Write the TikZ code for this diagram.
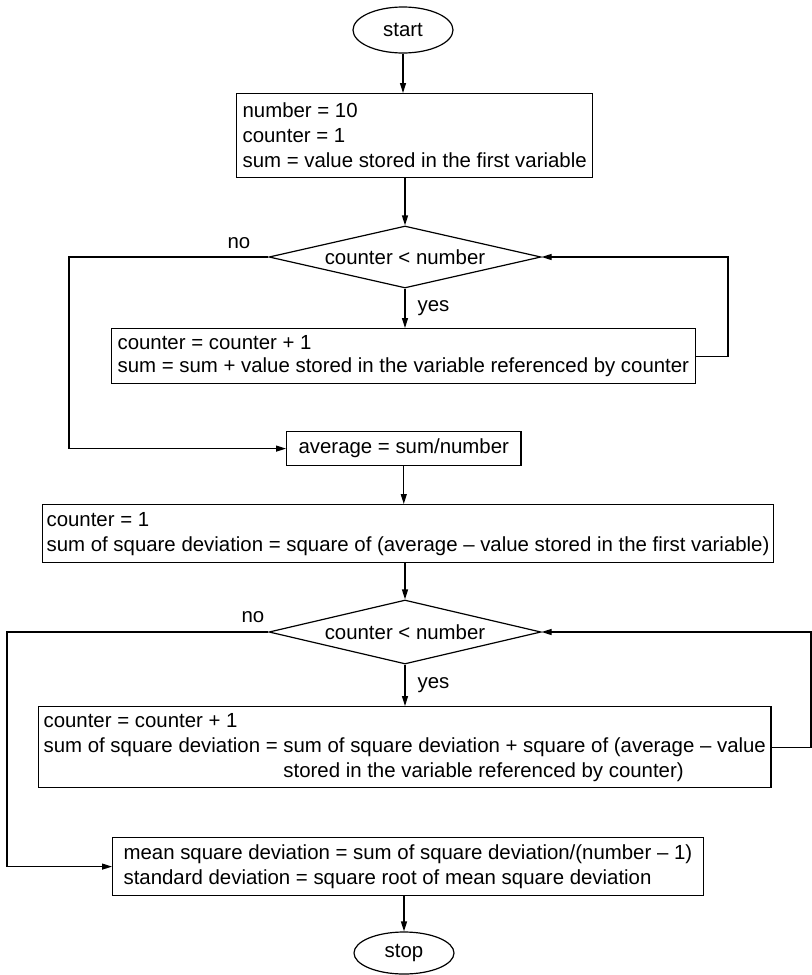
\documentclass[tikz,border=0pt]{standalone}
\usepackage{fontspec}
\setmainfont{Liberation Sans}
\usetikzlibrary{shapes,arrows.meta,positioning,calc}

\tikzset{
  terminal/.style={draw, ellipse, minimum width=50pt, inner sep=0pt},
  procbox/.style={draw, rectangle, anchor=north west, align=left, inner ysep=0pt},
  decision/.style={draw, diamond, aspect=4.4, inner sep=0pt, minimum width=136pt, minimum height=31pt},
  flow/.style={-{Triangle[length=5pt,width=3pt]}},
}

\begin{document}
\begin{tikzpicture}[x=0.5pt, y=-0.5pt, line width=0.6pt, font=\fontsize{10.2}{12.5}\selectfont]
    \useasboundingbox (0,0) rectangle (812,975);

    % Start / stop
    \node [terminal, minimum height=23pt] (start) at (403,30) {start};
    \node [terminal, minimum height=21pt] (stop) at (404,953) {stop};

    % First loop: sum of the values
    \node [procbox, minimum height=42pt, inner xsep=3pt] (init) at (236,93)
        {number = 10\\counter = 1\\sum = value stored in the first variable};
    \node [decision] (test1) at (405,257) {counter < number};
    \node [procbox, minimum height=27.5pt, inner xsep=3pt, font=\fontsize{10.2}{11.5}\selectfont] (step1) at (111,328)
        {counter = counter + 1\\sum = sum + value stored in the variable referenced by counter};
    \node [procbox, minimum height=17pt, inner xsep=6pt] (avg) at (286,431) {average = sum/number};
    \node (no1) at (239,243) {no};
    \coordinate (loop1) at (728,257);
    \coordinate (back1) at (69,257);

    % Second loop: square deviations
    \node [procbox, minimum height=29pt, inner xsep=2pt] (init2) at (42,504)
        {counter = 1\\sum of square deviation = square of (average – value stored in the first variable)};
    \node [decision, minimum height=32pt] (test2) at (405,632) {counter < number};
    \node [procbox, minimum height=40.5pt, inner xsep=2.5pt] (step2) at (38,706)
        {counter = counter + 1\\
         sum of square deviation = sum of square deviation + square of (average – value\\
         \phantom{sum of square deviation = }stored in the variable referenced by counter)};
    \node [procbox, minimum height=29pt, inner xsep=5.5pt] (result) at (112,837)
        {mean square deviation = sum of square deviation/(number – 1)\\
         standard deviation = square root of mean square deviation};
    \node (no2) at (253,617) {no};
    \coordinate (loop2) at (811,632);
    \coordinate (back2) at (7,632);

    % Connectors
    \draw [flow] (start) -- (start |- init.north);
    \draw [flow] (test1 |- init.south) -- (test1.north);
    \draw [flow] (test1.south) -- node [right, inner sep=6pt] {yes} (test1.south |- step1.north);
    \draw [flow] (step1.east) -| (loop1) -- (test1.east);
    \draw [flow] (test1.west) -- (back1) |- (avg.west);
    \draw [flow] (avg.south) -- (avg.south |- init2.north);
    \draw [flow] (test2 |- init2.south) -- (test2.north);
    \draw [flow] (test2.south) -- node [right, inner sep=6pt] {yes} (test2.south |- step2.north);
    \draw [flow] (step2.east) -| (loop2) -- (test2.east);
    \draw [flow] (test2.west) -- (back2) |- (result.west);
    \draw [flow] (stop |- result.south) -- (stop.north);
\end{tikzpicture}
\end{document}
